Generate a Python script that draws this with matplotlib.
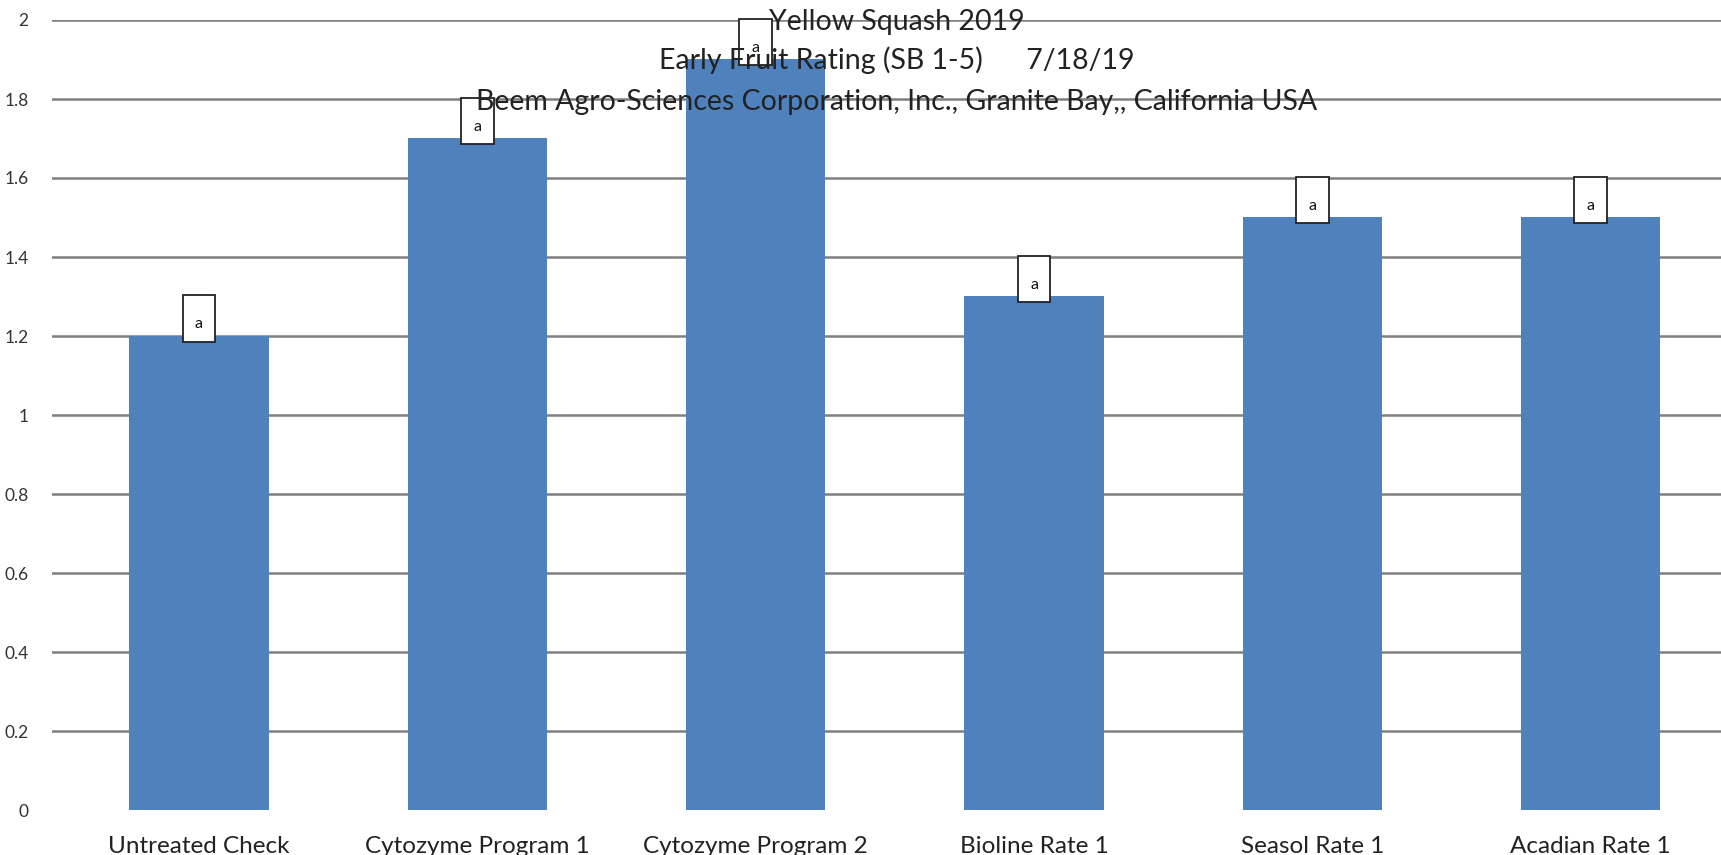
import matplotlib.pyplot as plt
from matplotlib.patches import Rectangle

plt.rcParams["font.family"] = ["Lato", "DejaVu Sans"]

treatments = ["Untreated Check", "Cytozyme Program 1", "Cytozyme Program 2",
              "Bioline Rate 1", "Seasol Rate 1", "Acadian Rate 1"]
ratings = [1.2, 1.7, 1.9, 1.3, 1.5, 1.5]
letters = ["a", "a", "a", "a", "a", "a"]
y_ticks = [0, 0.2, 0.4, 0.6, 0.8, 1, 1.2, 1.4, 1.6, 1.8, 2]
y_tick_labels = ["0", "0.2", "0.4", "0.6", "0.8", "1", "1.2", "1.4", "1.6", "1.8", "2"]

W, H = 1721, 855
fig = plt.figure(figsize=(W / 100, H / 100), dpi=100)
# axes in pixel coords: left 52, right edge of figure, y=0 at 810, y=2 at 20
ax = fig.add_axes([52 / W, (H - 810) / H, (W - 52) / W, 790 / H])

x = list(range(len(treatments)))
ax.bar(x, ratings, width=0.5, color="#4F81BD", zorder=2)

# significance letter boxes
for i, v, l in zip(x, ratings, letters):
    ax.add_patch(Rectangle((i - 0.059, v - 0.015), 0.118, 0.118, facecolor="white",
                           edgecolor="#222222", lw=1.3, zorder=3, clip_on=False))
    ax.text(i, v + 0.03, l, ha="center", va="center", fontsize=11.5, zorder=4,
            color="#111111")

ax.set_xlim(-0.528, 5.468)
ax.set_ylim(0, 2)
ax.set_yticks(y_ticks)
ax.set_yticklabels(y_tick_labels, fontsize=12.5, color="#333333")
ax.yaxis.grid(True, color="#7f7f7f", lw=1.8, zorder=1)
ax.get_ygridlines()[0].set_visible(False)
ax.set_xticks(x)
ax.set_xticklabels(treatments, fontsize=17.5, color="#222222")
ax.tick_params(axis="both", length=0)
ax.tick_params(axis="x", pad=18.5)
ax.tick_params(axis="y", pad=17)
for s in ax.spines.values():
    s.set_visible(False)

title_lines = ["Yellow Squash 2019",
               "Early Fruit Rating (SB 1-5)      7/18/19",
               "Beem Agro-Sciences Corporation, Inc., Granite Bay,, California USA"]
title_y = [22, 60, 102]
for line, ty in zip(title_lines, title_y):
    fig.text(897 / W, 1 - ty / H, line, ha="center", va="center", fontsize=20.5,
             color="#222222")

fig.savefig("out.png", dpi=100)
